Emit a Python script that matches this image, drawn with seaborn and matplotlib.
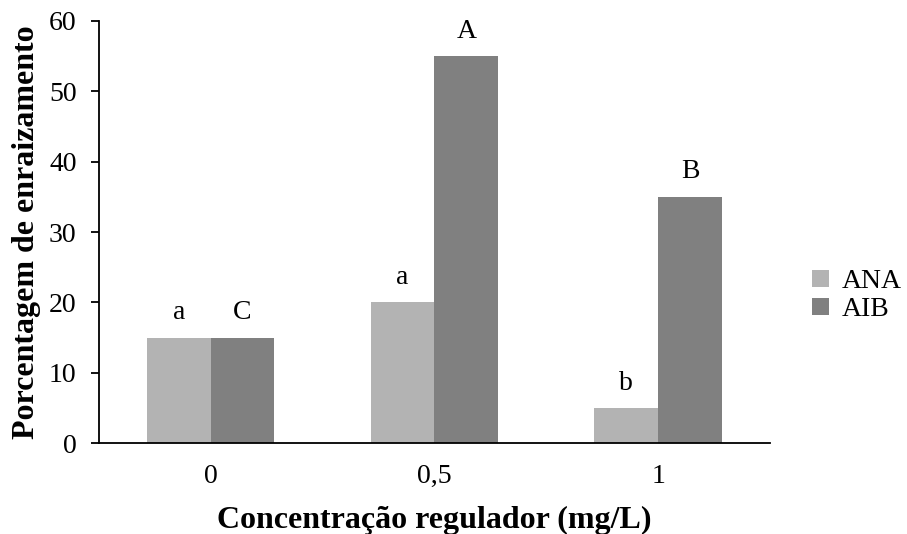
# rooting percentage by regulator concentration (ANA vs AIB)

import pandas as pd
import matplotlib.pyplot as plt
import seaborn as sns

# data
concentracao = ['0', '0,5', '1']
ana = [15, 20, 5]
aib = [15, 55, 35]
letras_ana = ['a', 'a', 'b']
letras_aib = ['C', 'A', 'B']

df = pd.DataFrame({
    'conc': concentracao * 2,
    'valor': ana + aib,
    'regulador': ['ANA'] * 3 + ['AIB'] * 3,
})

sns.set_style('white')
plt.rcParams['font.family'] = ['Liberation Serif', 'DejaVu Serif']
plt.rcParams['text.color'] = 'black'
plt.rcParams['axes.labelcolor'] = 'black'
plt.rcParams['xtick.color'] = 'black'
plt.rcParams['ytick.color'] = 'black'

fig = plt.figure(figsize=(9.07, 5.34), dpi=100)
ax = fig.add_axes([0.109, 0.170, 0.740, 0.791])

sns.barplot(data=df, x='conc', y='valor', hue='regulador',
            palette=['#b3b3b3', '#808080'], width=0.57, gap=0,
            saturation=1, ax=ax, errorbar=None, linewidth=0)

# letters above bars
ax.bar_label(ax.containers[0], labels=letras_ana, padding=9, fontsize=20)
ax.bar_label(ax.containers[1], labels=letras_aib, padding=9, fontsize=20)

ax.set_ylim(0, 60)
ax.set_yticks(range(0, 61, 10))
ax.set_xlim(-0.5, 2.5)
ax.set_xticks([-0.5, 0.5, 1.5, 2.5], minor=True)
ax.tick_params(axis='x', which='major', length=0, pad=15, labelsize=20)
ax.tick_params(axis='x', which='minor', length=6, width=1.3, direction='out')
ax.tick_params(axis='y', length=6, width=1.3, direction='out', left=True,
               labelsize=20, pad=10)

for s in ['top', 'right']:
    ax.spines[s].set_visible(False)
for s in ['left', 'bottom']:
    ax.spines[s].set_color('black')
    ax.spines[s].set_linewidth(1.3)

ax.set_xlabel('Concentração regulador (mg/L)', fontsize=23, fontweight='bold',
              labelpad=12)
ax.set_ylabel('Porcentagem de enraizamento', fontsize=23, fontweight='bold',
              labelpad=6)

leg = ax.legend(loc='center left', bbox_to_anchor=(1.063, 0.349), frameon=False,
                fontsize=20, handlelength=0.6, handleheight=0.6,
                handletextpad=0.45, labelspacing=0.1, borderpad=0,
                borderaxespad=0)

plt.savefig('out.png', dpi=100)
